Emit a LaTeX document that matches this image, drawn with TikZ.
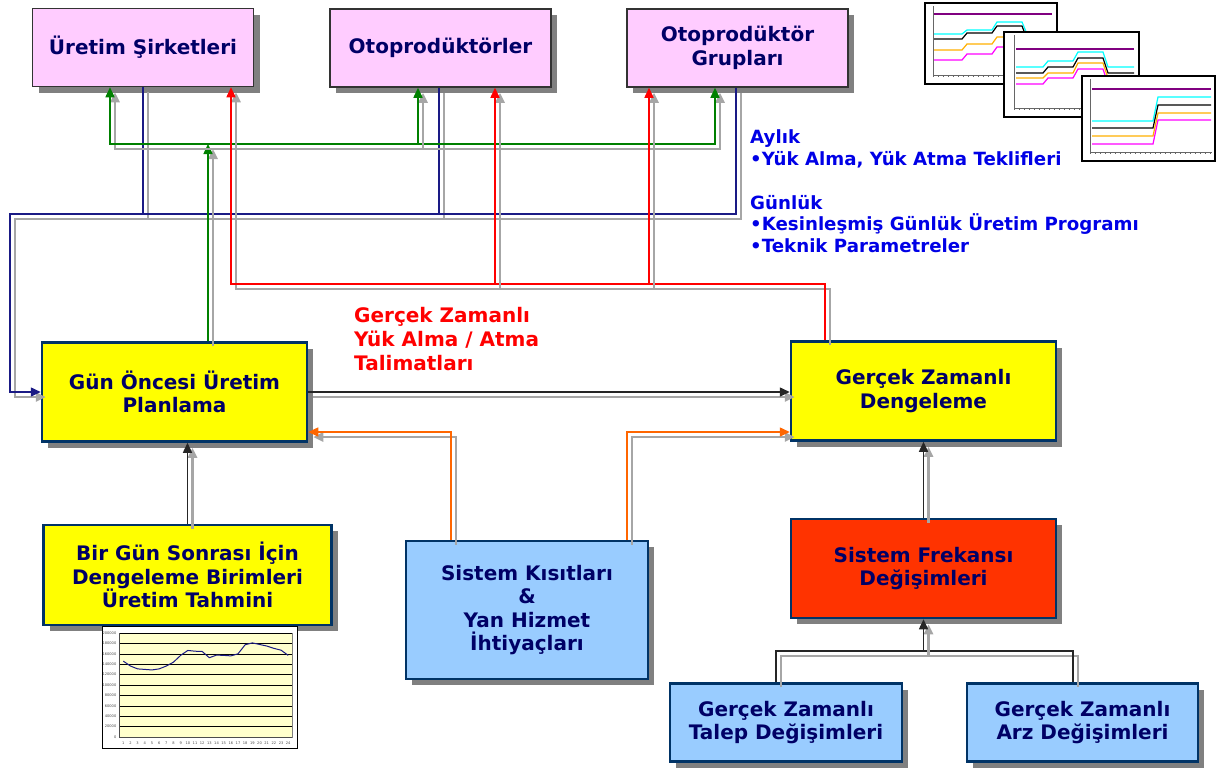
\documentclass[tikz,border=0pt]{standalone}
\usepackage{fontspec}
\setmainfont{DejaVu Sans}
\usetikzlibrary{arrows.meta,shadows}
\definecolor{pembe}{HTML}{FFCCFF}
\definecolor{sari}{HTML}{FFFF00}
\definecolor{acikmavi}{HTML}{99CCFF}
\definecolor{kiremit}{HTML}{FF3300}
\definecolor{lacivert}{HTML}{000066}
\definecolor{cerceve}{HTML}{003366}
\definecolor{golge}{HTML}{808080}
\definecolor{iz}{HTML}{A6A6A6}
\definecolor{yesil}{HTML}{008000}
\definecolor{laci}{HTML}{1A1A85}
\definecolor{turuncu}{HTML}{FF6600}
\definecolor{notmavi}{HTML}{0000E6}
\definecolor{mor}{HTML}{800080}
\definecolor{camgobegi}{HTML}{00FFFF}
\definecolor{altin}{HTML}{FFB000}
\definecolor{eflatun}{HTML}{FF00FF}
\definecolor{grafiksari}{HTML}{FFFFCC}
\newcommand\kutuyazi{\fontsize{20}{23.5}\selectfont\bfseries}
\newcommand\notyazi{\fontsize{18.2}{21.5}\selectfont\bfseries}
% her baglanti once gri izi, sonra kendi rengiyle
\newcommand\akis[2]{\draw[#1,izhat] #2; \draw[#1] #2;}

\begin{document}
\begin{tikzpicture}[x=1pt,y=-1pt,
    kutu/.style={minimum width=265pt, minimum height=99pt, inner sep=0pt,
                 align=center, text=lacivert, font=\kutuyazi,
                 general shadow={fill=golge, shadow xshift=6pt, shadow yshift=-6pt}},
    ust/.style={kutu, draw=black!80, line width=1.5pt, fill=pembe,
                minimum width=221pt, minimum height=78pt},
    alt/.style={kutu, draw=cerceve, line width=2.5pt},
    ok/.style={-{Triangle[length=10pt,width=9pt]}},
    okok/.style={{Triangle[length=10pt,width=9pt]}-{Triangle[length=10pt,width=9pt]}},
    izhat/.style={draw=iz, line width=2.5pt, transform canvas={shift={(5,5)}}},
    yesilhat/.style={draw=yesil, line width=1.5pt},
    lacihat/.style={draw=laci, line width=1.5pt},
    kirmizihat/.style={draw=red, line width=1.5pt},
    turuncuhat/.style={draw=turuncu, line width=1.5pt},
    siyahhat/.style={draw=black!85, line width=1.5pt},
    grafik/.style={fill=white, draw=black, line width=1.5pt},
    eksen/.style={draw=black!60, line width=0.6pt},
    seri/.style={line width=1.2pt},
    minik/.style={font=\fontsize{3.6}{4}\selectfont, text=black!70, inner sep=0.5pt}]
  \useasboundingbox (0,0) rectangle (1228,772);

  % kutular
  \node[ust] (uretim) at (143,47.5) {Üretim Şirketleri};
  \node[ust] (oto) at (440.5,48) {Otoprodüktörler};
  \node[ust] (grup) at (737.5,48) {Otoprodüktör\\Grupları};
  \node[alt, fill=sari] (gunoncesi) at (174.5,392) {Gün Öncesi Üretim\\Planlama};
  \node[alt, fill=sari] (dengeleme) at (923.5,391) {Gerçek Zamanlı\\Dengeleme};
  \node[alt, fill=sari, minimum width=288pt, minimum height=100pt] (birgun) at (187.5,575)
    {Bir Gün Sonrası İçin\\Dengeleme Birimleri\\Üretim Tahmini};
  \node[alt, fill=acikmavi, minimum width=242pt, minimum height=138pt] (kisit) at (527,610)
    {Sistem Kısıtları\\\&\\Yan Hizmet\\İhtiyaçları};
  \node[alt, fill=kiremit] (frekans) at (923.5,568.5) {Sistem Frekansı\\Değişimleri};
  \node[alt, fill=acikmavi, minimum width=232pt, minimum height=78pt] (talep) at (786,722.5)
    {Gerçek Zamanlı\\Talep Değişimleri};
  \node[alt, fill=acikmavi, minimum width=231pt, minimum height=78pt] (arz) at (1082.5,722.5)
    {Gerçek Zamanlı\\Arz Değişimleri};

  % kirilma noktalari
  \coordinate (gbus) at (208,144);
  \coordinate (gsol) at (110,144);
  \coordinate (gorta) at (418,144);
  \coordinate (gsag) at (715,144);
  \coordinate (nsol) at (10,214);
  \coordinate (n1) at (143,214);
  \coordinate (n2) at (439,214);
  \coordinate (n3) at (736,214);
  \coordinate (rsag) at (825,284);
  \coordinate (r1) at (231,284);
  \coordinate (r2) at (495,284);
  \coordinate (r3) at (649,284);
  \coordinate (osol) at (451,432);
  \coordinate (osag) at (627,432);
  \coordinate (tsol) at (776,651);
  \coordinate (tsag) at (1073,651);
  \coordinate (torta) at (923.5,651);

  % baglantilar
  \akis{lacihat}{(n1 |- uretim.south) -- (n1)}
  \akis{lacihat}{(n2 |- oto.south) -- (n2)}
  \akis{lacihat,ok}{(n3 |- grup.south) -- (n3) -- (nsol) |- (gunoncesi.west)}
  \akis{yesilhat,ok}{(gbus |- gunoncesi.north) -- (gbus)}
  \akis{yesilhat,okok}{(gsol |- uretim.south) -- (gsol) -- (gsag) -- (gsag |- grup.south)}
  \akis{yesilhat,ok}{(gorta) -- (gorta |- oto.south)}
  \akis{kirmizihat,ok}{(rsag |- dengeleme.north) -- (rsag) -- (r1) -- (r1 |- uretim.south)}
  \akis{kirmizihat,ok}{(r2) -- (r2 |- oto.south)}
  \akis{kirmizihat,ok}{(r3) -- (r3 |- grup.south)}
  \akis{siyahhat,ok}{(gunoncesi.east) -- (gunoncesi.east -| dengeleme.west)}
  \akis{turuncuhat,ok}{(osol |- kisit.north) -- (osol) -- (osol -| gunoncesi.east)}
  \akis{turuncuhat,ok}{(osag |- kisit.north) -- (osag) -- (osag -| dengeleme.west)}
  \akis{siyahhat,ok}{(birgun.north) -- (birgun.north |- gunoncesi.south)}
  \akis{siyahhat,ok}{(frekans.north) -- (dengeleme.south)}
  \akis{siyahhat}{(tsol |- talep.north) -- (tsol) -- (tsag) -- (tsag |- arz.north)}
  \akis{siyahhat,ok}{(torta) -- (torta |- frekans.south)}

  % yazilar
  \node[font=\notyazi, text=notmavi, align=left, anchor=base west, inner sep=0pt] (aylik)
    at (750,165) {Aylık\\•Yük Alma, Yük Atma Teklifleri};
  \node[font=\notyazi, text=notmavi, align=left, anchor=base west, inner sep=0pt] (gunluk)
    at (750,252) {Günlük\\•Kesinleşmiş Günlük Üretim Programı\\•Teknik Parametreler};
  \node[font=\fontsize{20}{24}\selectfont\bfseries, text=red, align=left, anchor=base west,
        inner sep=0pt] (talimat) at (354,370) {Gerçek Zamanlı\\Yük Alma / Atma\\Talimatları};

  % tahmin grafigi
  \filldraw[fill=white, draw=black, line width=1pt] (102,626) rectangle (297,748);
  \filldraw[fill=grafiksari, draw=black!50, line width=0.5pt] (119,633) rectangle (292,737);
  \foreach \k in {1,...,10}
    \draw[black, line width=0.6pt] (119,{737-10.4*\k}) -- (292,{737-10.4*\k});
  \draw[black!70, line width=0.6pt] (119,633) -- (119,737) -- (292,737);
  \foreach \k in {0,...,10}
    \node[minik, anchor=east] (yl\k) at (117,{737-10.4*\k}) {\the\numexpr\k*20000\relax};
  \foreach \i in {1,...,24}
    \node[minik] (xl\i) at ({123.3+7.17*(\i-1)},743) {\i};
  \draw[laci, line width=1pt, line join=round] (123.3,661.1)
    \foreach \v [count=\i from 2] in {136.5,131,130,129,131,136.5,144,157,166.5,165,164.5,
      152.5,157.5,157,156,160,177.5,181,178,175,170.5,167,157}
      { -- ({123.3+7.17*(\i-1)},{737-0.52*\v}) };

  % teklif grafikleri
  \filldraw[grafik] (925,3) rectangle (1057,84);
  \draw[eksen] (933,6) -- (933,75) -- (1054,75);
  \foreach \t in {0,5,...,120} \draw[eksen] ({933+\t},75) -- ++(0,2);
  \draw[seri, mor] (934,14) -- (1052,14);
  \draw[seri, camgobegi] (934,34) -- (962,34) -- (967,30) -- (992,30) -- (997,22) -- (1022,22) -- (1027,34) -- (1052,34);
  \draw[seri, black] (934,39) -- (962,39) -- (967,33) -- (992,33) -- (997,26) -- (1022,26) -- (1027,39) -- (1052,39);
  \draw[seri, altin] (934,50) -- (962,50) -- (967,44) -- (992,44) -- (997,37) -- (1022,37) -- (1027,50) -- (1052,50);
  \draw[seri, eflatun] (934,60) -- (962,60) -- (967,54) -- (992,54) -- (997,47) -- (1022,47) -- (1027,60) -- (1052,60);

  \filldraw[grafik] (1004,32) rectangle (1139,117);
  \draw[eksen] (1014,35) -- (1014,108) -- (1136,108);
  \foreach \t in {0,5,...,120} \draw[eksen] ({1014+\t},108) -- ++(0,2);
  \draw[seri, mor] (1016,49) -- (1134,49);
  \draw[seri, camgobegi] (1016,67) -- (1043,67) -- (1048,61) -- (1073,61) -- (1078,52) -- (1103,52) -- (1108,67) -- (1134,67);
  \draw[seri, black] (1016,73) -- (1043,73) -- (1048,67) -- (1073,67) -- (1078,58) -- (1103,58) -- (1108,73) -- (1134,73);
  \draw[seri, altin] (1016,78) -- (1043,78) -- (1048,73) -- (1073,73) -- (1078,63) -- (1103,63) -- (1108,78) -- (1134,78);
  \draw[seri, eflatun] (1016,84) -- (1043,84) -- (1048,78) -- (1073,78) -- (1078,69) -- (1103,69) -- (1108,84) -- (1134,84);

  \filldraw[grafik] (1082,76) rectangle (1215,161);
  \draw[eksen] (1090,79) -- (1090,152) -- (1212,152);
  \foreach \t in {0,5,...,120} \draw[eksen] ({1090+\t},152) -- ++(0,2);
  \draw[seri, mor] (1092,89) -- (1211,89);
  \draw[seri, camgobegi] (1092,121) -- (1153,121) -- (1158,97) -- (1211,97);
  \draw[seri, black] (1092,128) -- (1153,128) -- (1158,105) -- (1211,105);
  \draw[seri, altin] (1092,136) -- (1153,136) -- (1158,113) -- (1211,113);
  \draw[seri, eflatun] (1092,144) -- (1153,144) -- (1158,120) -- (1211,120);
\end{tikzpicture}
\end{document}
